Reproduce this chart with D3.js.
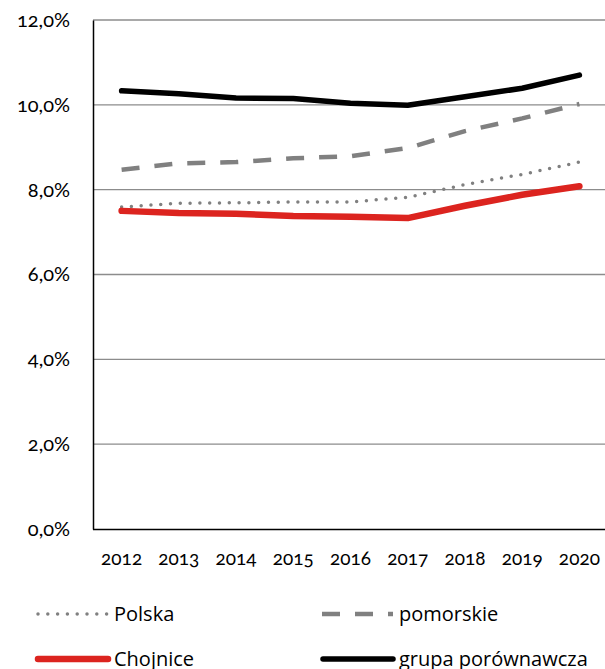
<!DOCTYPE html>
<html>
<head>
<meta charset="utf-8">
<script src="https://cdn.jsdelivr.net/npm/d3@7"></script>
<style>
  body { margin: 0; background: #fff; }
  svg text { fill: #000; }
  .axis text { font-family: Lato, "Open Sans", sans-serif; font-variant-numeric: oldstyle-nums; font-feature-settings: "onum" 1; }
  .axis.y text { font-size: 20px; }
  .axis.x text { font-size: 19px; }
  .legend text { font-family: "Open Sans", sans-serif; font-size: 20px; }
</style>
</head>
<body>
<div id="chart"></div>
<script>
// data
const years = ['2012', '2013', '2014', '2015', '2016', '2017', '2018', '2019', '2020'];
const polska = [7.59, 7.68, 7.69, 7.71, 7.71, 7.82, 8.12, 8.36, 8.65];
const pomorskie = [8.47, 8.62, 8.65, 8.74, 8.79, 8.98, 9.38, 9.68, 10.02];
const chojnice = [7.50, 7.45, 7.43, 7.38, 7.36, 7.33, 7.62, 7.88, 8.08];
const grupa = [10.33, 10.26, 10.16, 10.15, 10.04, 9.99, 10.19, 10.39, 10.70];
const yTicks = [0, 2, 4, 6, 8, 10, 12];

const width = 605, height = 669;
const margin = { top: 20, right: -3, bottom: 140, left: 93 };

const svg = d3.select('#chart').append('svg')
    .attr('width', width)
    .attr('height', height);

const x = d3.scaleBand(years, [margin.left, width - margin.right]);
const y = d3.scaleLinear([0, 12], [height - margin.bottom, margin.top]);
const fmt = v => v.toFixed(1).replace('.', ',') + '%';

// gridlines
svg.append('g')
    .selectAll('line')
    .data(yTicks.filter(d => d > 0))
    .join('line')
    .attr('x1', margin.left).attr('x2', width)
    .attr('y1', d => y(d)).attr('y2', d => y(d))
    .attr('stroke', '#8c8c8c')
    .attr('stroke-width', 1.3);

// axes
const axisY = svg.append('g').attr('class', 'axis y')
    .attr('transform', `translate(${margin.left},0)`)
    .call(d3.axisLeft(y).tickValues(yTicks).tickFormat(fmt).tickSize(0).tickPadding(23));
axisY.select('.domain').attr('stroke', '#000').attr('stroke-width', 1.5);

const axisX = svg.append('g').attr('class', 'axis x')
    .attr('transform', `translate(0,${y(0)})`)
    .call(d3.axisBottom(x).tickSize(0).tickPadding(23));
axisX.select('.domain').attr('d', `M${margin.left},0.5H${width}`).attr('stroke', '#000').attr('stroke-width', 1.5);

// series
const series = [
    { name: 'pomorskie', values: pomorskie, color: '#808080', width: 4.5, dash: '18,15', cap: 'butt' },
    { name: 'Polska', values: polska, color: '#808080', width: 3.5, dash: '0,9.8', cap: 'round' },
    { name: 'Chojnice', values: chojnice, color: '#dc241f', width: 6.5, dash: null, cap: 'round' },
    { name: 'grupa porównawcza', values: grupa, color: '#000', width: 5.5, dash: null, cap: 'round' }
];

const line = d3.line()
    .x((d, i) => x(years[i]) + x.bandwidth() / 2)
    .y(d => y(d));

svg.append('g')
    .selectAll('path')
    .data(series)
    .join('path')
    .attr('d', d => line(d.values))
    .attr('fill', 'none')
    .attr('stroke', d => d.color)
    .attr('stroke-width', d => d.width)
    .attr('stroke-dasharray', d => d.dash)
    .attr('stroke-linecap', d => d.cap)
    .attr('stroke-linejoin', 'round');

// legend
const legendItems = [
    { s: series[1], x: 37, y: 614 },
    { s: series[0], x: 322, y: 614 },
    { s: series[2], x: 37, y: 659 },
    { s: series[3], x: 322, y: 659 }
];
const legend = svg.append('g').attr('class', 'legend');
legendItems.forEach(it => {
    const g = legend.append('g').attr('transform', `translate(${it.x},${it.y})`);
    g.append('line')
        .attr('x1', it.s.cap === 'round' ? 1 : 0).attr('x2', 71)
        .attr('stroke', it.s.color)
        .attr('stroke-width', it.s.width)
        .attr('stroke-dasharray', it.s.dash)
        .attr('stroke-linecap', it.s.cap);
    g.append('text')
        .attr('x', 77).attr('dy', '0.35em')
        .text(it.s.name);
});
</script>
</body>
</html>
